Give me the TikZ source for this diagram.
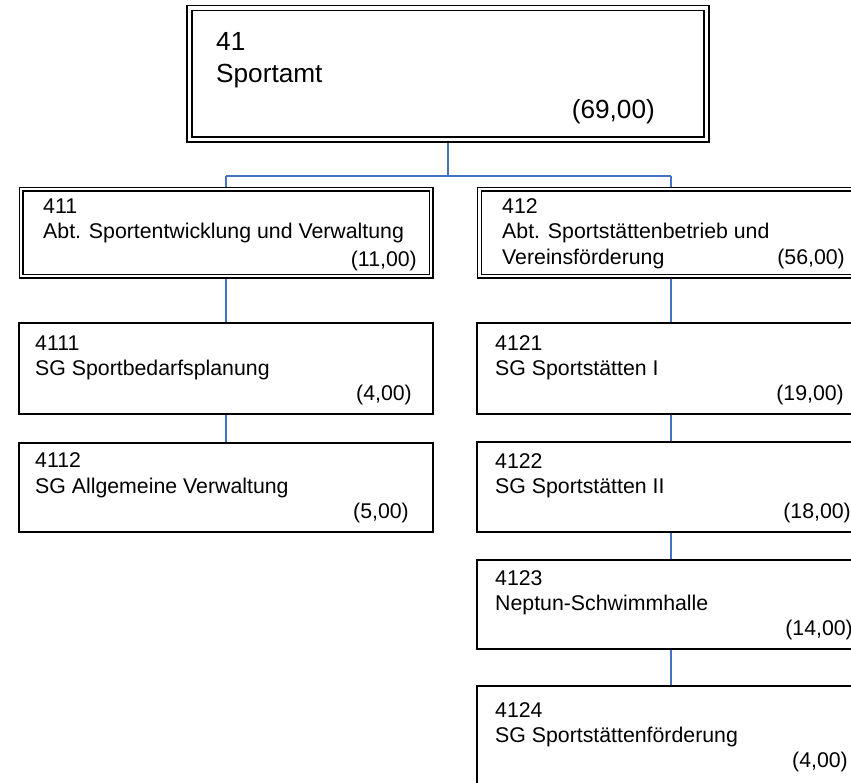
\documentclass[tikz,border=0pt]{standalone}
\usepackage{fontspec}
\setmainfont{Liberation Sans}
\usetikzlibrary{backgrounds}
\definecolor{conncol}{RGB}{68,114,196}
\begin{document}
\begin{tikzpicture}[x=1pt,y=-1pt,
  dblbig/.style={draw, rectangle, inner sep=0, line width=1.2pt, double, double distance=3.8pt},
  dblbox/.style={draw, rectangle, inner sep=0, line width=1.2pt, double, double distance=2.6pt},
  sglbox/.style={draw, rectangle, inner sep=0, line width=1.4pt},
  txt/.style={anchor=base west, inner sep=0, font=\fontsize{21.3}{25}\selectfont},
  amt/.style={anchor=base east, inner sep=0, font=\fontsize{21.3}{25}\selectfont},
  bigtxt/.style={anchor=base west, inner sep=0, font=\fontsize{26.2}{31}\selectfont},
  bigamt/.style={anchor=base east, inner sep=0, font=\fontsize{26.2}{31}\selectfont},
  conn/.style={draw=conncol, line width=1.6pt}]
\useasboundingbox (0,0) rectangle (851,782);
\clip (0,0) rectangle (851,782);

% boxes
\node[dblbig, minimum width=517pt, minimum height=131.5pt] (top) at (448,73.75) {};
\node[dblbox, minimum width=410pt, minimum height=87pt] (b411) at (226,232.5) {};
\node[dblbox, minimum width=410pt, minimum height=87pt] (b412) at (684.5,232.5) {};
\node[sglbox, minimum width=414pt, minimum height=91pt] (b4111) at (226,368.5) {};
\node[sglbox, minimum width=414pt, minimum height=89pt] (b4112) at (226,487.5) {};
\node[sglbox, minimum width=414pt, minimum height=91pt] (b4121) at (684,368.5) {};
\node[sglbox, minimum width=414pt, minimum height=90pt] (b4122) at (684,487) {};
\node[sglbox, minimum width=414pt, minimum height=89pt] (b4123) at (684,604.5) {};
\node[sglbox, minimum width=414pt, minimum height=114pt] (b4124) at (684,743) {};

% texts
\node[bigtxt] (t41a) at (216,50) {41};
\node[bigtxt] (t41b) at (216,82) {Sportamt};
\node[bigamt] (t41c) at (655,118) {(69,00)};

\node[txt] (t411a) at (43,213) {411};
\node[txt] (t411b) at (43,238) {Abt. Sportentwicklung und Verwaltung};
\node[amt] (t411c) at (417,266) {(11,00)};

\node[txt] (t412a) at (502,213) {412};
\node[txt] (t412b) at (502,238) {Abt. Sportstättenbetrieb und};
\node[txt] (t412c) at (502,264) {Vereinsförderung};
\node[amt] (t412d) at (845,264) {(56,00)};

\node[txt] (t4111a) at (35,350) {4111};
\node[txt] (t4111b) at (35,375) {SG Sportbedarfsplanung};
\node[amt] (t4111c) at (412,400) {(4,00)};

\node[txt] (t4112a) at (35,467) {4112};
\node[txt] (t4112b) at (35,493) {SG Allgemeine Verwaltung};
\node[amt] (t4112c) at (409,518) {(5,00)};

\node[txt] (t4121a) at (495,350) {4121};
\node[txt] (t4121b) at (495,375) {SG Sportstätten I};
\node[amt] (t4121c) at (844,400) {(19,00)};

\node[txt] (t4122a) at (495,468) {4122};
\node[txt] (t4122b) at (495,493) {SG Sportstätten II};
\node[amt] (t4122c) at (851,518) {(18,00)};

\node[txt] (t4123a) at (495,585) {4123};
\node[txt] (t4123b) at (495,610) {Neptun-Schwimmhalle};
\node[amt] (t4123c) at (853,635) {(14,00)};

\node[txt] (t4124a) at (495,717) {4124};
\node[txt] (t4124b) at (495,742) {SG Sportstättenförderung};
\node[amt] (t4124c) at (848,767) {(4,00)};

% connector helpers
\coordinate (jn) at (448,176);
\coordinate (lc) at (226,176);
\coordinate (rc) at (671,176);

\begin{pgfonlayer}{background}
\draw[conn] (top.south) -- (jn);
\draw[conn] (lc) -- (rc);
\draw[conn] (lc) -- (lc |- b411.north);
\draw[conn] (rc) -- (rc |- b412.north);
\draw[conn] (b411.south) -- (b4111.north);
\draw[conn] (b4111.south) -- (b4112.north);
\draw[conn] (rc |- b412.south) -- (rc |- b4121.north);
\draw[conn] (rc |- b4121.south) -- (rc |- b4122.north);
\draw[conn] (rc |- b4122.south) -- (rc |- b4123.north);
\draw[conn] (rc |- b4123.south) -- (rc |- b4124.north);
\end{pgfonlayer}
\end{tikzpicture}
\end{document}
